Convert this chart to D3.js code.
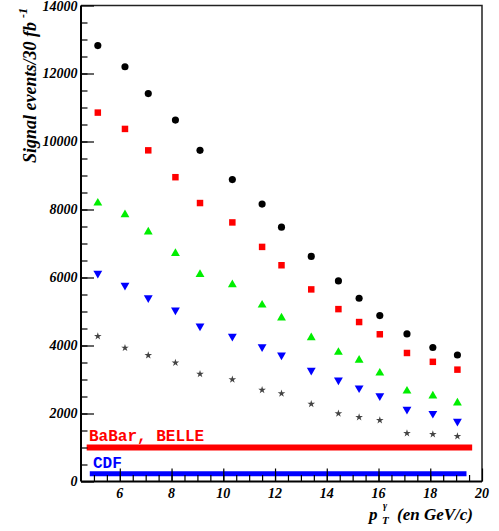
<!DOCTYPE html>
<html>
<head>
<meta charset="utf-8">
<script src="https://cdn.jsdelivr.net/npm/d3@7"></script>
<style>
  html, body { margin: 0; padding: 0; background: #fff; }
  svg { display: block; }
</style>
</head>
<body>
<div id="chart"></div>
<script>
// ---- data ----
const ptValues = [5.15, 6.2, 7.1, 8.15, 9.1, 10.35, 11.5, 12.25, 13.4, 14.45, 15.25, 16.05, 17.1, 18.1, 19.05];
const blackCircles = [12820, 12200, 11410, 10630, 9740, 8880, 8160, 7480, 6620, 5900, 5390, 4880, 4340, 3940, 3720];
const redSquares   = [10850, 10370, 9740, 8950, 8190, 7620, 6900, 6360, 5650, 5070, 4690, 4330, 3780, 3520, 3290];
const greenUp      = [8190, 7850, 7340, 6710, 6090, 5790, 5190, 4810, 4230, 3800, 3570, 3190, 2660, 2520, 2310];
const blueDown     = [6120, 5770, 5400, 5040, 4570, 4270, 3960, 3720, 3270, 2980, 2750, 2520, 2120, 2000, 1770];
const grayStars    = [4270, 3930, 3710, 3490, 3160, 3000, 2690, 2590, 2280, 2000, 1890, 1800, 1420, 1390, 1330];
const bandNames  = ["BaBar, BELLE", "CDF"];
const bandLevels = [1000, 230];
const bandStart  = [4.72, 4.84];
const bandEnd    = [19.62, 19.4];
const xTickLabels = [6, 8, 10, 12, 14, 16, 18, 20];
const yTickLabels = [0, 2000, 4000, 6000, 8000, 10000, 12000, 14000];

// ---- layout ----
const W = 499, H = 531;
const svg = d3.select("#chart").append("svg").attr("width", W).attr("height", H);
const x = d3.scaleLinear().domain([4.5, 20]).range([81, 482]);
const y = d3.scaleLinear().domain([0, 14000]).range([481.5, 5.5]);
const serif = "'Liberation Serif', 'Times New Roman', serif";
const mono = "'Liberation Mono', 'Courier New', monospace";

// frame top & right
svg.append("path")
  .attr("d", `M${x(4.5)},${y(14000)}H${x(20)}V${y(0)}`)
  .attr("fill", "none").attr("stroke", "#222").attr("stroke-width", 1.5);

// bands
const bandColors = ["#ff0000", "#0000ff"];
const bandWidths = [6, 5];
bandLevels.forEach((v, i) => {
  svg.append("line")
    .attr("x1", x(bandStart[i])).attr("x2", x(bandEnd[i]))
    .attr("y1", y(v)).attr("y2", y(v))
    .attr("stroke", bandColors[i]).attr("stroke-width", bandWidths[i]);
});
svg.append("text").attr("x", 89).attr("y", 440.5)
  .attr("font-family", mono).attr("font-weight", "bold").attr("font-size", 16)
  .attr("fill", "#ff0000").text(bandNames[0]);
svg.append("text").attr("x", 93).attr("y", 468)
  .attr("font-family", mono).attr("font-weight", "bold").attr("font-size", 16)
  .attr("fill", "#0000ff").text(bandNames[1]);

// axes
const xAxisMinor = d3.axisBottom(x).tickValues(d3.range(5, 20, 0.5)).tickSize(-6.5).tickFormat("");
const xAxisMajor = d3.axisBottom(x).tickValues(xTickLabels).tickSize(-13).tickFormat("");
const yAxisMinor = d3.axisLeft(y).tickValues(d3.range(500, 14000, 500)).tickSize(-6.5).tickFormat("");
const yAxisMajor = d3.axisLeft(y).tickValues(yTickLabels).tickSize(-13).tickFormat("");

function styleAxis(g) {
  g.select(".domain").remove();
  g.selectAll(".tick line").attr("stroke", "#000").attr("stroke-width", 1.2);
}
svg.append("g").attr("transform", `translate(0,${y(0)})`).call(xAxisMinor).call(styleAxis);
svg.append("g").attr("transform", `translate(0,${y(0)})`).call(xAxisMajor).call(styleAxis);
svg.append("g").attr("transform", `translate(${x(4.5)},0)`).call(yAxisMinor).call(styleAxis);
svg.append("g").attr("transform", `translate(${x(4.5)},0)`).call(yAxisMajor).call(styleAxis);

// axis lines
svg.append("line").attr("x1", x(4.5)).attr("x2", x(20)).attr("y1", y(0)).attr("y2", y(0))
  .attr("stroke", "#000").attr("stroke-width", 2);
svg.append("line").attr("x1", x(4.5)).attr("x2", x(4.5)).attr("y1", y(0)).attr("y2", y(14000))
  .attr("stroke", "#000").attr("stroke-width", 2);

// tick labels
svg.append("g").selectAll("text").data(xTickLabels).join("text")
  .attr("x", d => x(d)).attr("y", 497.5)
  .attr("text-anchor", "middle")
  .attr("font-family", serif).attr("font-weight", "bold").attr("font-style", "italic")
  .attr("font-size", 14).text(d => d);
svg.append("g").selectAll("text").data(yTickLabels).join("text")
  .attr("x", 77.5).attr("y", d => Math.max(y(d) + 4.6, 11))
  .attr("text-anchor", "end")
  .attr("font-family", serif).attr("font-weight", "bold").attr("font-style", "italic")
  .attr("font-size", 14).text(d => d);

// axis titles
const yt = svg.append("text")
  .attr("transform", "translate(35.5,163) rotate(-90)")
  .attr("font-family", serif).attr("font-weight", "bold").attr("font-style", "italic")
  .attr("font-size", 18);
yt.append("tspan").text("Signal events/30 fb");
yt.append("tspan").attr("dy", -9).attr("dx", 4).attr("font-size", 12).text("-1");

const xt = svg.append("g").attr("font-family", serif).attr("font-weight", "bold").attr("font-style", "italic");
xt.append("text").attr("x", 369).attr("y", 520).attr("font-size", 17).text("p");
xt.append("text").attr("x", 383).attr("y", 509).attr("font-size", 10).text("γ");
xt.append("text").attr("x", 382).attr("y", 524).attr("font-size", 11).text("T");
xt.append("text").attr("x", 397).attr("y", 520).attr("font-size", 17).text("(en GeV/c)");

// markers
const series = [
  { vals: blackCircles, type: d3.symbolCircle, size: 40, color: "#000000", rot: 0 },
  { vals: redSquares,   type: d3.symbolSquare, size: 42, color: "#ff0000", rot: 0 },
  { vals: greenUp,      type: d3.symbolTriangle, size: 34, color: "#00ee00", rot: 0 },
  { vals: blueDown,     type: d3.symbolTriangle, size: 34, color: "#0000ff", rot: 180 },
  { vals: grayStars,    type: d3.symbolStar, size: 18, color: "#444444", rot: 0 }
];
series.forEach(s => {
  svg.append("g").selectAll("path").data(s.vals).join("path")
    .attr("d", d3.symbol().type(s.type).size(s.size))
    .attr("transform", (d, i) => `translate(${x(ptValues[i])},${y(d)}) rotate(${s.rot})`)
    .attr("fill", s.color);
});
</script>
</body>
</html>
